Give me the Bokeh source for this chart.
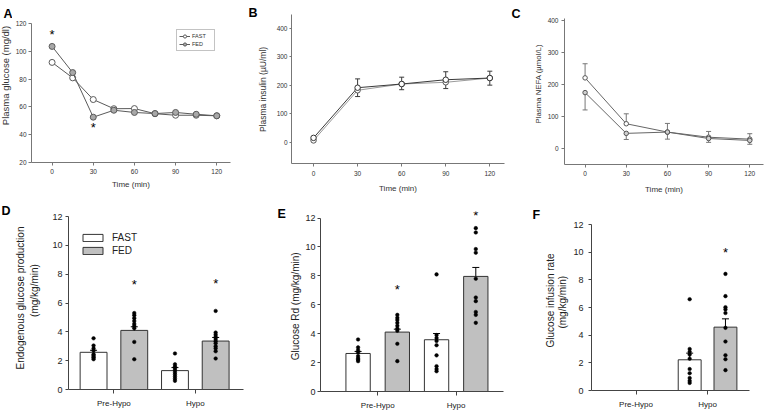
import numpy as np
from bokeh.plotting import figure
from bokeh.layouts import row, column
from bokeh.models import (Range1d, FixedTicker, Legend, LegendItem, GlobalInlineStyleSheet)
from bokeh.core.properties import value
from bokeh.embed import file_html
from bokeh.resources import INLINE

FONT = "Liberation Sans"

# ---------------- data ----------------
a_time = [0, 15, 30, 45, 60, 75, 90, 105, 120]
a_fast = [92.0, 80.9, 65.3, 58.7, 58.8, 55.1, 54.0, 54.0, 53.6]
a_fed = [103.5, 84.7, 52.6, 57.6, 56.0, 55.2, 56.0, 54.7, 53.6]
a_star_time = [0, 30]
a_star_y = [112.0, 45.5]

b_time = [0, 30, 60, 90, 120]
b_fast = [15, 191, 204, 219, 225]
b_fast_se = [4, 31, 24, 28, 24]
b_fed = [6, 182, 204, 210, 225]
b_fed_se = [4, 22, 20, 22, 25]

c_time = [0, 30, 60, 90, 120]
c_fast = [221, 78, 52, 36, 30]
c_fast_se = [44, 31, 27, 18, 17]
c_fed = [175, 48, 52, 32, 26]
c_fed_se = [54, 19, 22, 12, 12]

groups = ["Pre-Hypo", "Hypo"]

d_fast_mean = [2.58, 1.31]
d_fast_se = [0.14, 0.21]
d_fed_mean = [4.10, 3.36]
d_fed_se = [0.25, 0.25]
d_fast_pts = [[3.55, 3.05, 2.85, 2.7, 2.45, 2.35, 2.25, 2.2, 2.1],
              [2.5, 1.75, 1.6, 1.5, 1.35, 1.2, 1.05, 0.9, 0.75, 0.6]]
d_fed_pts = [[5.3, 5.15, 4.95, 4.75, 4.55, 4.4, 4.25, 3.3, 2.1],
             [5.45, 3.95, 3.8, 3.65, 3.5, 3.35, 3.2, 3.0, 2.85, 2.65, 2.15]]
d_star = [7.26, 7.33]

e_fast_mean = [2.63, 3.58]
e_fast_se = [0.14, 0.43]
e_fed_mean = [4.11, 7.96]
e_fed_se = [0.2, 0.62]
e_fast_pts = [[3.6, 3.05, 2.85, 2.7, 2.45, 2.3, 2.2, 2.1],
              [8.1, 3.9, 3.7, 3.5, 3.2, 2.5, 1.75, 1.55, 1.4]]
e_fed_pts = [[5.3, 5.1, 4.95, 4.75, 4.55, 4.35, 4.2, 3.3, 2.1],
             [11.3, 11.0, 9.85, 9.6, 7.8, 6.5, 6.25, 5.5, 5.3, 4.75]]
e_star = [7.04, 12.2]

f_groups = ["Hypo"]
f_fast_mean = [2.22]
f_fast_se = [0.48]
f_fed_mean = [4.58]
f_fed_se = [0.6]
f_fast_pts = [[6.6, 3.0, 2.8, 2.6, 2.3, 1.55, 1.25, 0.9, 0.7, 0.55]]
f_fed_pts = [[8.43, 6.82, 6.02, 5.86, 5.6, 4.53, 3.54, 2.55, 2.26, 1.47]]
f_star = [10.0]

time_ticks = [0, 30, 60, 90, 120]
titles = {
    "A": ["Plasma glucose (mg/dl)"],
    "B": ["Plasma insulin (\u00b5U/ml)"],
    "C": ["Plasma NEFA (\u00b5mol/L)"],
    "D": ["Endogenous glucose production", "(mg/kg/min)"],
    "E": ["Glucose Rd (mg/kg/min)"],
    "F": ["Glucose infusion rate", "(mg/kg/min)"],
}


# ---------------- helpers ----------------
def base_fig(width, height, left, right, top, bottom, xr, yr):
    p = figure(width=width, height=height, x_range=Range1d(*xr), y_range=Range1d(*yr),
               toolbar_location=None, tools="", output_backend="svg",
               min_border_left=left, min_border_right=right,
               min_border_top=top, min_border_bottom=bottom, frame_align=False)
    p.outline_line_color = None
    p.xgrid.visible = False
    p.ygrid.visible = False
    p.background_fill_color = "white"
    p.border_fill_color = "white"
    return p


def strip(width, height):
    """Side strip (frame covers whole canvas, y measured from the top) for
    panel letters and y-axis titles."""
    s = figure(width=width, height=height, x_range=Range1d(0, width),
               y_range=Range1d(height, 0), x_axis_type=None, y_axis_type=None,
               toolbar_location=None, tools="", output_backend="svg", min_border=0,
               frame_align=False)
    s.outline_line_color = None
    s.background_fill_color = "white"
    s.border_fill_color = "white"
    return s


def s_text(s, x, y, text, size, angle=0.0, bold=False, align="center",
           baseline="middle", color="#222"):
    s.text(x=[x], y=[y], text=[text], angle=angle, text_font=value(FONT),
           text_font_size=size, text_font_style="bold" if bold else "normal",
           text_align=align, text_baseline=baseline, text_color=color)


def letter(s, x, y, text):
    s_text(s, x, y, text, "12.5px", bold=True, align="left", baseline="alphabetic",
           color="black")


def style_axis(ax, color, size, lab_color, tick_out, standoff):
    ax.axis_line_color = color
    ax.axis_line_width = 1
    ax.major_tick_line_color = color
    ax.minor_tick_line_color = None
    ax.major_tick_in = 0
    ax.major_tick_out = tick_out
    ax.major_label_text_font = FONT
    ax.major_label_text_font_size = size
    ax.major_label_text_color = lab_color
    ax.major_label_standoff = standoff


def xtitle(ax, text, size, standoff, color="#333"):
    ax.axis_label = text
    ax.axis_label_text_font = FONT
    ax.axis_label_text_font_size = size
    ax.axis_label_text_font_style = "normal"
    ax.axis_label_text_color = color
    ax.axis_label_standoff = standoff


def err(p, x, y, se, sign, color, cap):
    y = np.asarray(y, float)
    end = y + sign * np.asarray(se, float)
    p.segment(x0=x, y0=y, x1=x, y1=end, line_color=color, line_width=1)
    p.scatter(x=x, y=end, marker="dash", size=cap, line_color=color, line_width=1)


ROT = np.pi / 2

# ---------------- panel A ----------------
sa = strip(12, 200)
letter(sa, 3, 13.3, "A")
s_text(sa, 5, 75, titles["A"][0], "9.5px", angle=ROT, color="#333")

pa = base_fig(233, 200, 19, 15, 23, 38, (-15, 130), (20, 120))
la = "#5a5a5a"
l_fast = pa.line(a_time, a_fast, line_color=la, line_width=1)
s_fast = pa.scatter(a_time, a_fast, size=6, fill_color="white", line_color=la, line_width=1)
l_fed = pa.line(a_time, a_fed, line_color=la, line_width=1)
s_fed = pa.scatter(a_time, a_fed, size=6, fill_color="#a8a8a8", line_color=la, line_width=1)
pa.text(x=a_star_time, y=a_star_y, text=["*"] * len(a_star_time), text_font=value(FONT),
        text_font_size="13px", text_align="center", text_baseline="middle",
        text_color="black")
style_axis(pa.xaxis[0], "#777", "6.5px", "#333", 3, 3)
style_axis(pa.yaxis[0], "#777", "6.5px", "#333", 3, 2)
pa.xaxis[0].ticker = FixedTicker(ticks=time_ticks)
pa.yaxis[0].ticker = FixedTicker(ticks=[20, 40, 60, 80, 100, 120])
xtitle(pa.xaxis[0], "Time (min)", "8px", 3)
leg_a = Legend(items=[LegendItem(label="FAST", renderers=[l_fast, s_fast]),
                      LegendItem(label="FED", renderers=[l_fed, s_fed])],
               location=(145, 111), orientation="vertical", padding=2, spacing=0,
               glyph_width=11, glyph_height=8, label_height=8, label_standoff=2,
               label_text_font=FONT, label_text_font_size="5.5px", label_text_color="#333",
               border_line_color="#888", border_line_width=1, background_fill_color="white",
               margin=0)
pa.add_layout(leg_a)

# ---------------- panel B ----------------
sb = strip(27, 200)
letter(sb, 3, 12.7, "B")
s_text(sb, 17.3, 89, titles["B"][0], "8.5px", angle=ROT, color="#333")

pb = base_fig(238, 200, 19, 6, 14, 37, (-15, 130), (-75, 448))
pb.line(b_time, b_fed, line_color="#9a9a9a", line_width=1)
pb.line(b_time, b_fast, line_color="#3a3a3a", line_width=1)
err(pb, b_time, b_fast, b_fast_se, 1, "#3a3a3a", 5)
err(pb, b_time, b_fed, b_fed_se, -1, "#3a3a3a", 5)
pb.scatter(b_time, b_fed, size=5.5, fill_color="white", line_color="#555", line_width=1)
pb.scatter(b_time, b_fast, size=5.5, fill_color="white", line_color="#333", line_width=1)
style_axis(pb.xaxis[0], "#777", "6.5px", "#333", 3, 4)
style_axis(pb.yaxis[0], "#777", "6.5px", "#333", 2, 2)
pb.xaxis[0].ticker = FixedTicker(ticks=time_ticks)
pb.yaxis[0].ticker = FixedTicker(ticks=[0, 100, 200, 300, 400])
xtitle(pb.xaxis[0], "Time (min)", "8px", 5)

# ---------------- panel C ----------------
sc = strip(34, 200)
letter(sc, 1, 13.3, "C")
s_text(sc, 28.3, 83.3, titles["C"][0], "7.8px", angle=ROT, color="#333")

pc = base_fig(220, 200, 19, 1, 18, 36, (-15, 130), (-49, 406))
pc.line(c_time, c_fast, line_color="#666", line_width=1)
pc.line(c_time, c_fed, line_color="#666", line_width=1)
err(pc, c_time, c_fast, c_fast_se, 1, "#777", 5)
err(pc, c_time, c_fed, c_fed_se, -1, "#777", 5)
pc.scatter(c_time, c_fast, size=4.5, fill_color="white", line_color="#555", line_width=1)
pc.scatter(c_time, c_fed, size=4.5, fill_color="#cfcfcf", line_color="#555", line_width=1)
style_axis(pc.xaxis[0], "#777", "6.5px", "#333", 3, 3)
style_axis(pc.yaxis[0], "#777", "6.5px", "#333", 3, 3)
pc.xaxis[0].ticker = FixedTicker(ticks=time_ticks)
pc.yaxis[0].ticker = FixedTicker(ticks=[0, 100, 200, 300, 400])
xtitle(pc.xaxis[0], "Time (min)", "8px", 6)


# ---------------- bar panels ----------------
def bar_panel(p, present, fast_mean, fast_se, fed_mean, fed_se, fast_pts, fed_pts, star,
              bw, off=0.25):
    pos = np.array([groups.index(g) + 1 for g in present], float)
    xf = pos - off
    xd = pos + off
    rf = p.vbar(x=xf, top=fast_mean, bottom=0, width=bw, fill_color="white",
                line_color="#333", line_width=1)
    rd = p.vbar(x=xd, top=fed_mean, bottom=0, width=bw, fill_color="#c0c0c0",
                line_color="#333", line_width=1)
    err(p, xf, fast_mean, fast_se, 1, "black", 7)
    err(p, xd, fed_mean, fed_se, 1, "black", 7)
    for i in range(len(present)):
        p.scatter([xf[i]] * len(fast_pts[i]), fast_pts[i], size=3.6, fill_color="black",
                  line_color="black", line_width=0.5)
        p.scatter([xd[i]] * len(fed_pts[i]), fed_pts[i], size=3.6, fill_color="black",
                  line_color="black", line_width=0.5)
    p.text(x=xd, y=star, text=["*"] * len(star), text_font=value(FONT),
           text_font_size="13px", text_align="center", text_baseline="middle",
           text_color="black")
    style_axis(p.xaxis[0], "#444", "8px", "#222", 4, 5)
    style_axis(p.yaxis[0], "#444", "9px", "#222", 3, 3)
    p.xaxis[0].ticker = FixedTicker(ticks=[1, 2])
    p.xaxis[0].major_label_overrides = {1: groups[0], 2: groups[1]}
    p.yaxis[0].ticker = FixedTicker(ticks=[0, 2, 4, 6, 8, 10, 12])
    p.yaxis[0].bounds = (0, 12)
    return rf, rd


# D
sd = strip(48, 212)
letter(sd, 1, 10, "D")
s_text(sd, 20.3, 97.5, titles["D"][0], "10px", angle=ROT)
s_text(sd, 34, 90, titles["D"][1], "10px", angle=ROT)

pd_ = base_fig(207, 212, 20, 12, 16, 23, (0.442, 2.592), (0, 12))
rf, rd = bar_panel(pd_, groups, d_fast_mean, d_fast_se, d_fed_mean, d_fed_se,
                   d_fast_pts, d_fed_pts, d_star, 0.33)
leg_d = Legend(items=[LegendItem(label="FAST", renderers=[rf]),
                      LegendItem(label="FED", renderers=[rd])],
               location=(12, 133), orientation="vertical", padding=0, spacing=2,
               glyph_width=25, glyph_height=9, label_height=9, label_standoff=7,
               label_text_font=FONT, label_text_font_size="10px", label_text_color="#222",
               border_line_color=None, background_fill_alpha=0, margin=0)
pd_.add_layout(leg_d)

# E
se_ = strip(47, 212)
letter(se_, 22, 13.3, "E")
s_text(se_, 40.3, 105.8, titles["E"][0], "10px", angle=ROT)

pe = base_fig(208, 212, 17, 7, 11, 21, (0.271, 2.603), (0, 12.45))
bar_panel(pe, groups, e_fast_mean, e_fast_se, e_fed_mean, e_fed_se,
          e_fast_pts, e_fed_pts, e_star, 0.31)
pe.yaxis[0].major_label_standoff = 2

# F
sf = strip(60, 212)
letter(sf, 22, 14, "F")
s_text(sf, 39.7, 100, titles["F"][0], "10px", angle=ROT)
s_text(sf, 52.2, 101.7, titles["F"][1], "10px", angle=ROT)

pf = base_fig(194, 212, 20, 15, 24, 22, (0.378, 2.586), (0, 12))
bar_panel(pf, f_groups, f_fast_mean, f_fast_se, f_fed_mean, f_fed_se,
          f_fast_pts, f_fed_pts, f_star, 0.32)
pf.yaxis[0].major_label_standoff = 5

lay = column(row(sa, pa, sb, pb, sc, pc), row(sd, pd_, se_, pe, sf, pf))
lay.stylesheets = [GlobalInlineStyleSheet(css="body { margin: 0; }")]

open("out.html", "w").write(file_html(lay, INLINE))
